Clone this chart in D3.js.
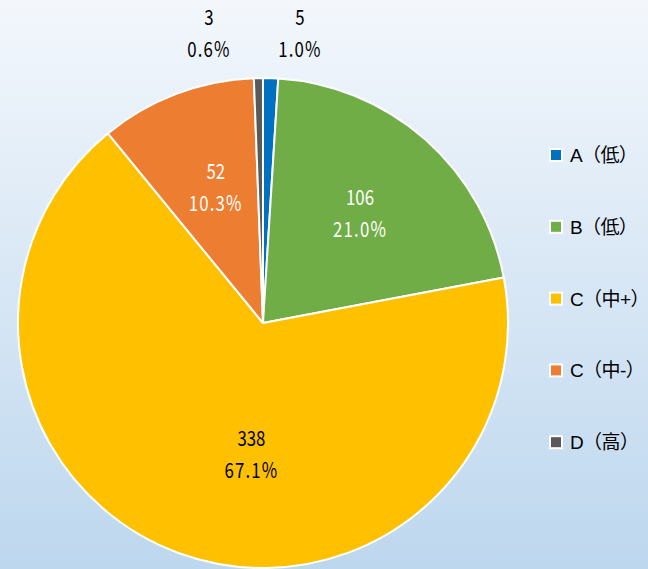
<!DOCTYPE html>
<html>
<head>
<meta charset="utf-8">
<script src="https://cdn.jsdelivr.net/npm/d3@7"></script>
<style>
  html, body { margin: 0; padding: 0; }
  body { width: 648px; height: 569px; overflow: hidden; }
</style>
</head>
<body>
<div class="canvas"></div>
<script>
// data
const categories = ['A（低）', 'B（低）', 'C（中+）', 'C（中-）', 'D（高）'];
const counts = [5, 106, 338, 52, 3];
const percents = ['1.0%', '21.0%', '67.1%', '10.3%', '0.6%'];
const colors = ['#0070C0', '#70AD47', '#FFC000', '#ED7D31', '#595959'];
const labelColors = ['#000', '#fff', '#000', '#fff', '#000'];

const dims = { width: 648, height: 569, radius: 245 };
const cent = { x: 263, y: 323 };
const labelFont = '"Noto Sans CJK JP", sans-serif';

const data = categories.map((c, i) => ({ key: c, value: counts[i], pct: percents[i] }));
const total = d3.sum(counts);

const svg = d3.select('.canvas')
  .append('svg')
  .attr('width', dims.width)
  .attr('height', dims.height);

// background gradient
const grad = svg.append('defs').append('linearGradient')
  .attr('id', 'bg').attr('x1', 0).attr('y1', 0).attr('x2', 0).attr('y2', 1);
grad.append('stop').attr('offset', '0%').attr('stop-color', '#f3f7fc');
grad.append('stop').attr('offset', '100%').attr('stop-color', '#bdd7ee');
svg.append('rect').attr('width', dims.width).attr('height', dims.height).attr('fill', 'url(#bg)');

const graph = svg.append('g').attr('transform', `translate(${cent.x}, ${cent.y})`);

const pie = d3.pie().sort(null).value(d => d.value);
const arcPath = d3.arc().outerRadius(dims.radius).innerRadius(0);
const labelArc = d3.arc().outerRadius(dims.radius * 1.16).innerRadius(0);

const arcs = pie(data);

graph.selectAll('path')
  .data(arcs)
  .enter()
  .append('path')
  .attr('d', arcPath)
  .attr('fill', (d, i) => colors[i])
  .attr('stroke', '#fff')
  .attr('stroke-width', 2)
  .attr('stroke-linejoin', 'round');

// labels: big slices inside, tiny slices above the pie
const labels = graph.selectAll('g.lbl')
  .data(arcs)
  .enter()
  .append('g')
  .attr('class', 'lbl')
  .attr('transform', (d, i) => {
    if (d.data.value / total < 0.05) {
      const mid = (d.startAngle + d.endAngle) / 2;
      const dx = mid < Math.PI ? 37 : -54;
      return `translate(${dx}, ${-dims.radius - 45})`;
    }
    let [x, y] = labelArc.centroid(d);
    if (d.data.value / total > 0.5) x = x * 0.3; // excel best-fit pulls the big label inward
    return `translate(${x + 3}, ${y - 3})`;
  });

const inner = labels.append('g').attr('transform', 'scale(0.8, 1)');

inner.append('text')
  .attr('text-anchor', 'middle')
  .attr('y', -8)
  .attr('font-family', labelFont)
  .attr('font-size', 21)
  .attr('fill', (d, i) => labelColors[i])
  .text(d => d.data.value);

inner.append('text')
  .attr('text-anchor', 'middle')
  .attr('y', 24)
  .attr('font-family', labelFont)
  .attr('font-size', 21)
  .attr('letter-spacing', 1.5)
  .attr('fill', (d, i) => labelColors[i])
  .text(d => d.data.pct);

// legend
const legendGroup = svg.append('g').attr('transform', 'translate(550, 155)');
const legendItems = legendGroup.selectAll('g')
  .data(data)
  .enter()
  .append('g')
  .attr('transform', (d, i) => `translate(0, ${i * 71.8})`);

legendItems.append('rect')
  .attr('x', 0).attr('y', -6)
  .attr('width', 12).attr('height', 12)
  .attr('fill', (d, i) => colors[i])
  .attr('stroke', '#fff')
  .attr('stroke-width', 2);

legendItems.append('text')
  .attr('x', 20)
  .attr('y', 7)
  .attr('font-family', '"Liberation Sans", "Noto Sans CJK JP", sans-serif')
  .attr('font-size', 19)
  .attr('letter-spacing', -0.6)
  .attr('fill', '#000')
  .text(d => d.key);
</script>
</body>
</html>
